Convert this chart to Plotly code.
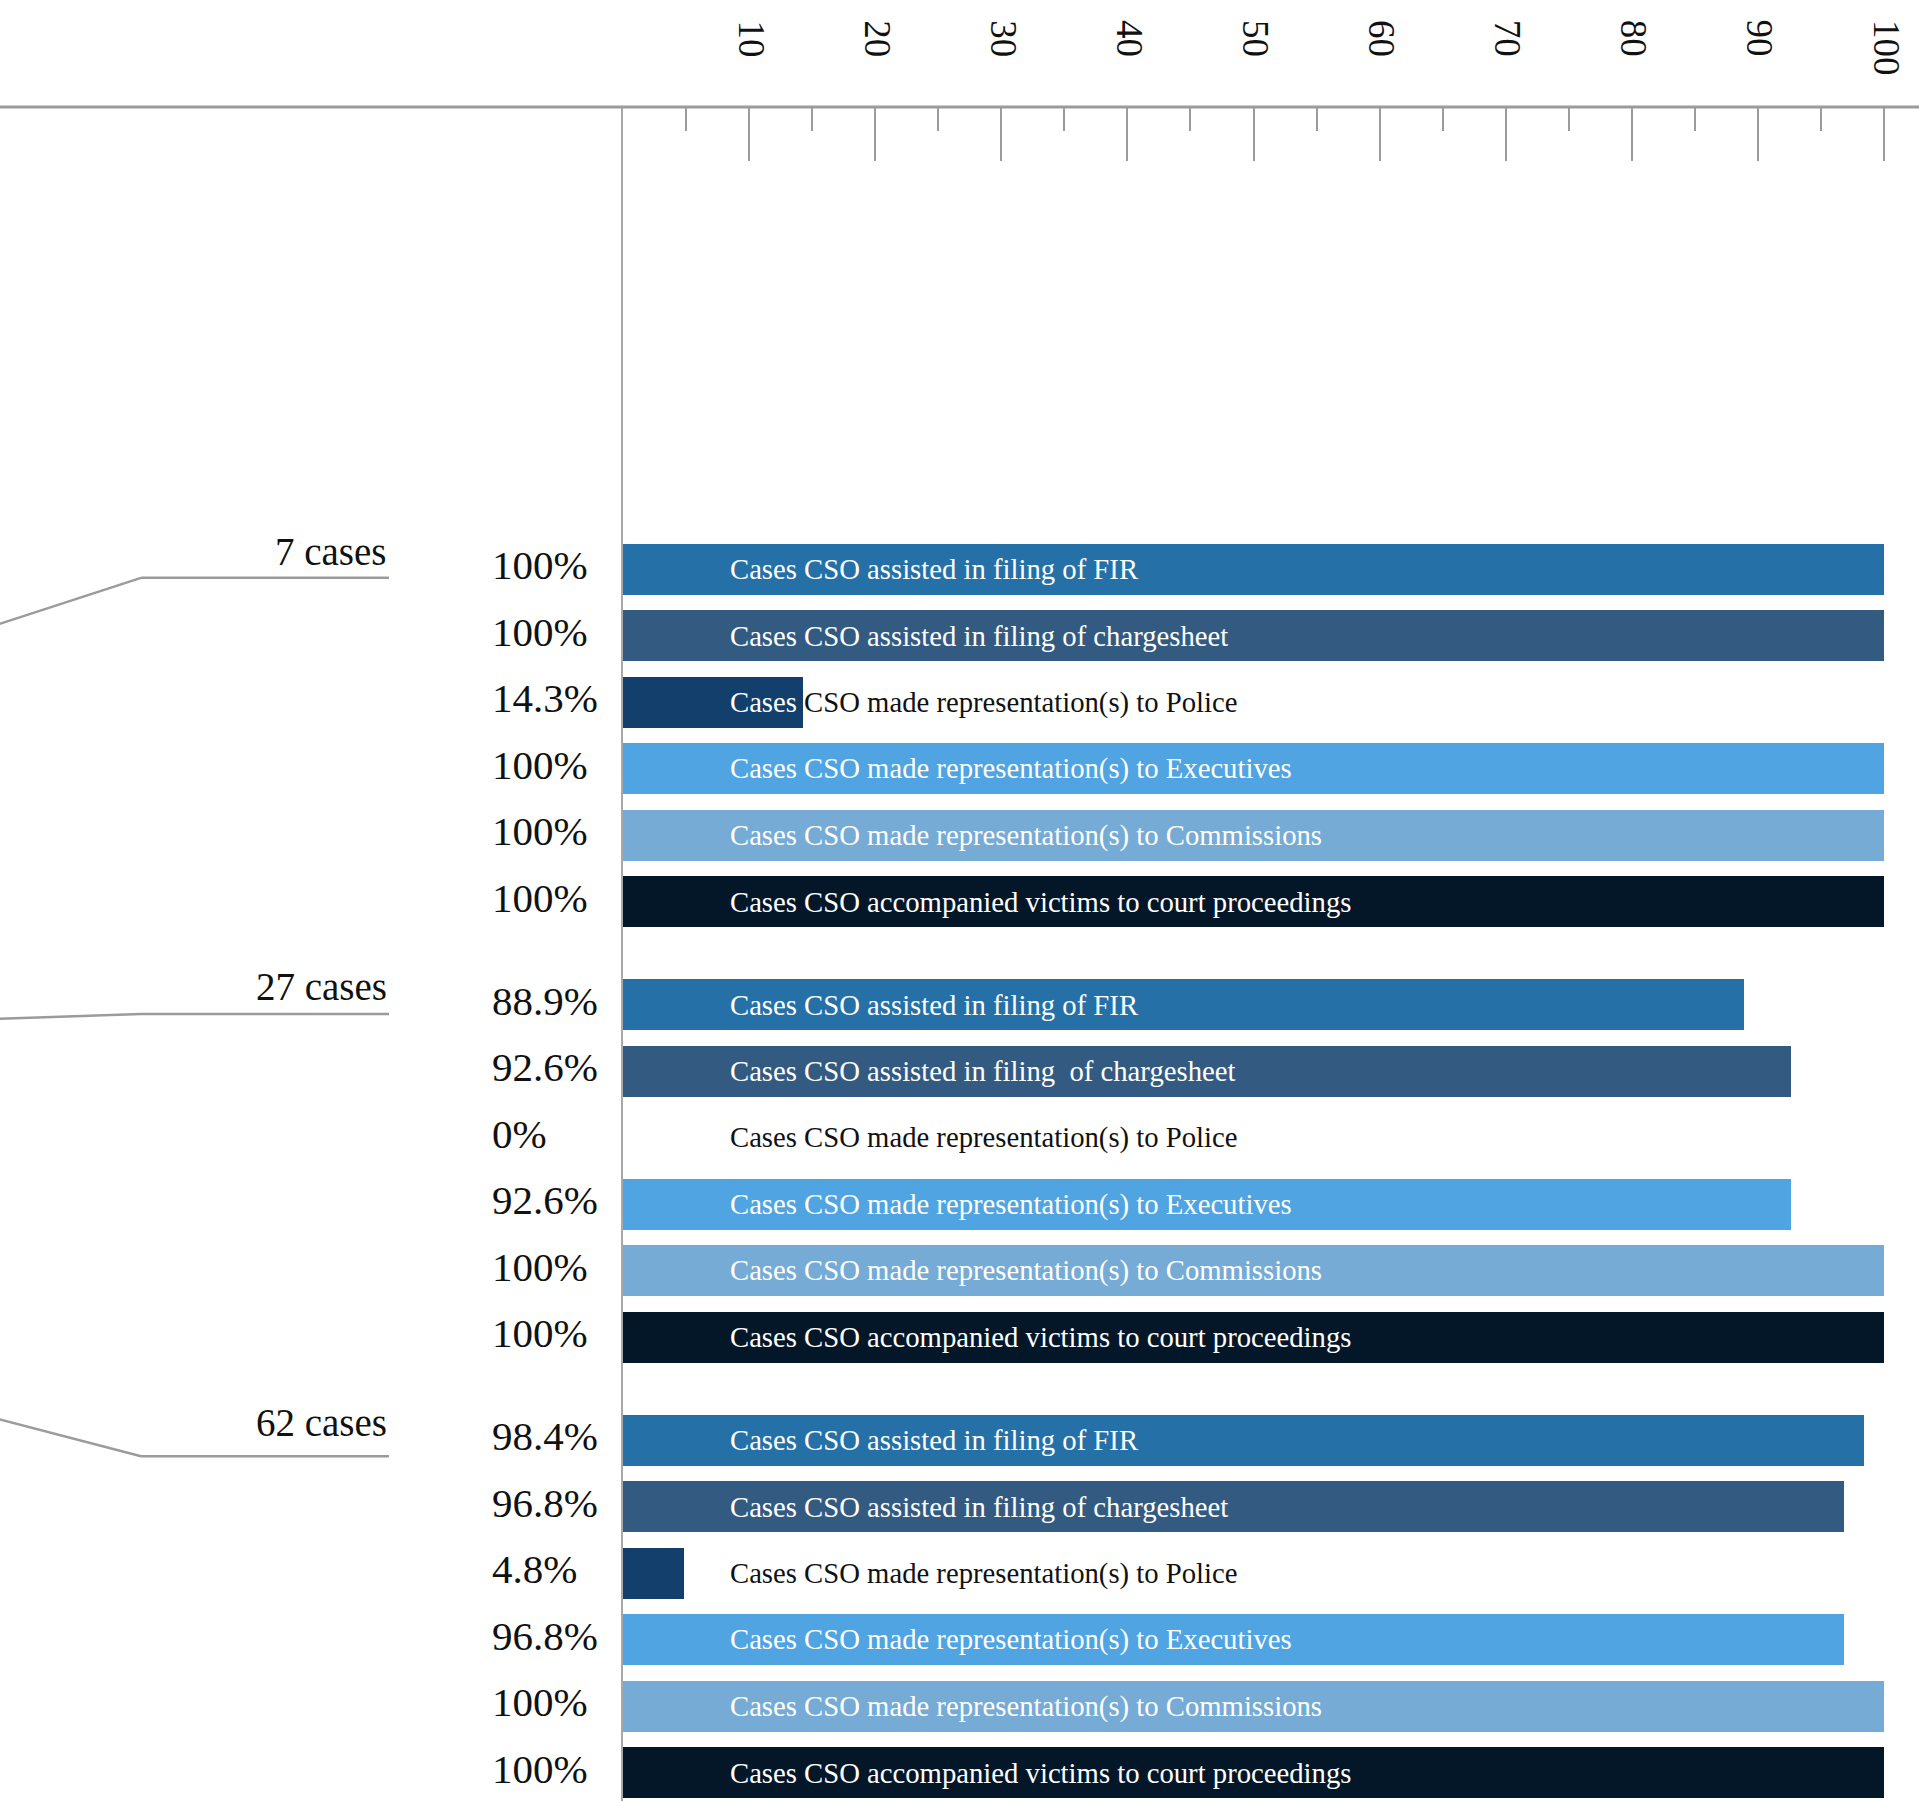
import plotly.graph_objects as go

# ---------------- data ----------------
labels_g1 = [
    "Cases CSO assisted in filing of FIR",
    "Cases CSO assisted in filing of chargesheet",
    "Cases CSO made representation(s) to Police",
    "Cases CSO made representation(s) to Executives",
    "Cases CSO made representation(s) to Commissions",
    "Cases CSO accompanied victims to court proceedings",
]
labels_g2 = [
    "Cases CSO assisted in filing of FIR",
    "Cases CSO assisted in filing  of chargesheet",
    "Cases CSO made representation(s) to Police",
    "Cases CSO made representation(s) to Executives",
    "Cases CSO made representation(s) to Commissions",
    "Cases CSO accompanied victims to court proceedings",
]
labels_g3 = labels_g1
group_cases = [7, 27, 62]
values_g1 = [100, 100, 14.3, 100, 100, 100]
values_g2 = [88.9, 92.6, 0, 92.6, 100, 100]
values_g3 = [98.4, 96.8, 4.8, 96.8, 100, 100]
tick_values = [10, 20, 30, 40, 50, 60, 70, 80, 90, 100]
tick_labels = ["10", "20", "30", "40", "50", "60", "70", "80", "90", "100"]
minor_tick_values = [5, 15, 25, 35, 45, 55, 65, 75, 85, 95]

# ---------------- styling / layout ----------------
row_colors = ["#2571a7", "#335b82", "#123f6c", "#50a4e1", "#76abd6", "#041729"]
SERIF = "Liberation Serif"
W, H = 1919, 1801
ML, MT = 623, 107
PX_PER_UNIT = (1884 - ML) / 100.0
XMAX = (W - ML) / PX_PER_UNIT
SLOT_PX = 66.5
Y_TOP = -6.95
Y_BOT = Y_TOP + (H - MT) / SLOT_PX
GROUP_STRIDE = 6.55
BAR_W = 0.77
GRAY = "#9b9b9b"

groups_values = [values_g1, values_g2, values_g3]
groups_labels = [labels_g1, labels_g2, labels_g3]


def ypos(g, i):
    return g * GROUP_STRIDE + i


def paper_y(y):
    return (Y_BOT - y) / (Y_BOT - Y_TOP)


def paper_x_px(px):
    return (px - ML) / (W - ML)


fig = go.Figure()

for i in range(6):
    fig.add_trace(go.Bar(
        orientation="h",
        x=[groups_values[g][i] for g in range(3)],
        y=[ypos(g, i) for g in range(3)],
        width=BAR_W,
        marker=dict(color=row_colors[i], line=dict(width=0)),
        hoverinfo="skip",
        showlegend=False,
    ))

annotations = []
shapes = []

LABEL_X = (728 - ML) / PX_PER_UNIT
leader_line_off = [0.13, 0.14, 0.24]
leader_end_off = [0.83, 0.21, -0.32]

for g in range(3):
    for i in range(6):
        v = groups_values[g][i]
        lab = groups_labels[g][i]
        y = ypos(g, i)
        if v >= 50:
            txt, col = lab, "white"
        elif v > 10:
            first, rest = lab.split(" ", 1)
            txt = "<span style='color:white'>" + first + "</span> " + rest
            col = "#111111"
        else:
            txt, col = lab, "#111111"
        annotations.append(dict(
            x=LABEL_X, y=y, xref="x", yref="y", text=txt, showarrow=False,
            xanchor="left", yanchor="middle",
            font=dict(family=SERIF, size=28.7, color=col),
        ))
        annotations.append(dict(
            x=paper_x_px(490), y=y - 0.06, xref="paper", yref="y", text=f"{v:g}%",
            showarrow=False, xanchor="left", yanchor="middle",
            font=dict(family=SERIF, size=41, color="#111111"),
        ))
    base = ypos(g, 0)
    annotations.append(dict(
        x=paper_x_px(389), y=base - 0.27, xref="paper", yref="y",
        text=f"{group_cases[g]} cases",
        showarrow=False, xanchor="right", yanchor="middle",
        font=dict(family=SERIF, size=39, color="#111111"),
    ))
    yl = base + leader_line_off[g]
    ye = base + leader_end_off[g]
    shapes.append(dict(type="line", xref="paper", yref="paper",
                       x0=paper_x_px(141), x1=paper_x_px(389),
                       y0=paper_y(yl), y1=paper_y(yl),
                       line=dict(color=GRAY, width=2.5)))
    shapes.append(dict(type="line", xref="paper", yref="paper",
                       x0=paper_x_px(-2), x1=paper_x_px(141),
                       y0=paper_y(ye), y1=paper_y(yl),
                       line=dict(color=GRAY, width=2.5)))

# tick labels, rotated and aligned at their top
for tv, tl in zip(tick_values, tick_labels):
    annotations.append(dict(
        x=tv, y=1 + (MT - 19) / (H - MT), xref="x", yref="paper", text=tl,
        showarrow=False, textangle=90, xanchor="center", yanchor="top",
        xshift=2, borderpad=0,
        font=dict(family=SERIF, size=37, color="#111111"),
    ))

# top axis line across the whole width
shapes.append(dict(type="line", xref="paper", yref="paper",
                   x0=paper_x_px(-2), x1=1, y0=1, y1=1,
                   line=dict(color=GRAY, width=3)))

fig.update_layout(
    width=W, height=H,
    margin=dict(l=ML, r=0, t=MT, b=0, pad=0),
    paper_bgcolor="white", plot_bgcolor="white",
    bargap=0,
    annotations=annotations,
    shapes=shapes,
    xaxis=dict(
        side="top", range=[0, XMAX],
        tickmode="array", tickvals=tick_values, ticktext=tick_labels,
        showticklabels=False,
        ticks="inside", ticklen=54, tickwidth=1.5, tickcolor=GRAY,
        minor=dict(tickmode="array", tickvals=minor_tick_values, ticks="inside",
                   ticklen=24, tickwidth=1.5, tickcolor=GRAY, showgrid=False),
        showgrid=False, zeroline=False, showline=False, fixedrange=True,
    ),
    yaxis=dict(
        range=[Y_BOT, Y_TOP], showticklabels=False, ticks="",
        showgrid=False, zeroline=False, showline=True, linecolor="#a8a8a8",
        linewidth=2, fixedrange=True,
    ),
)

fig.write_html("out.html", config={"displayModeBar": False},
               post_script="document.body.style.margin='0';document.body.style.overflow='hidden';")
